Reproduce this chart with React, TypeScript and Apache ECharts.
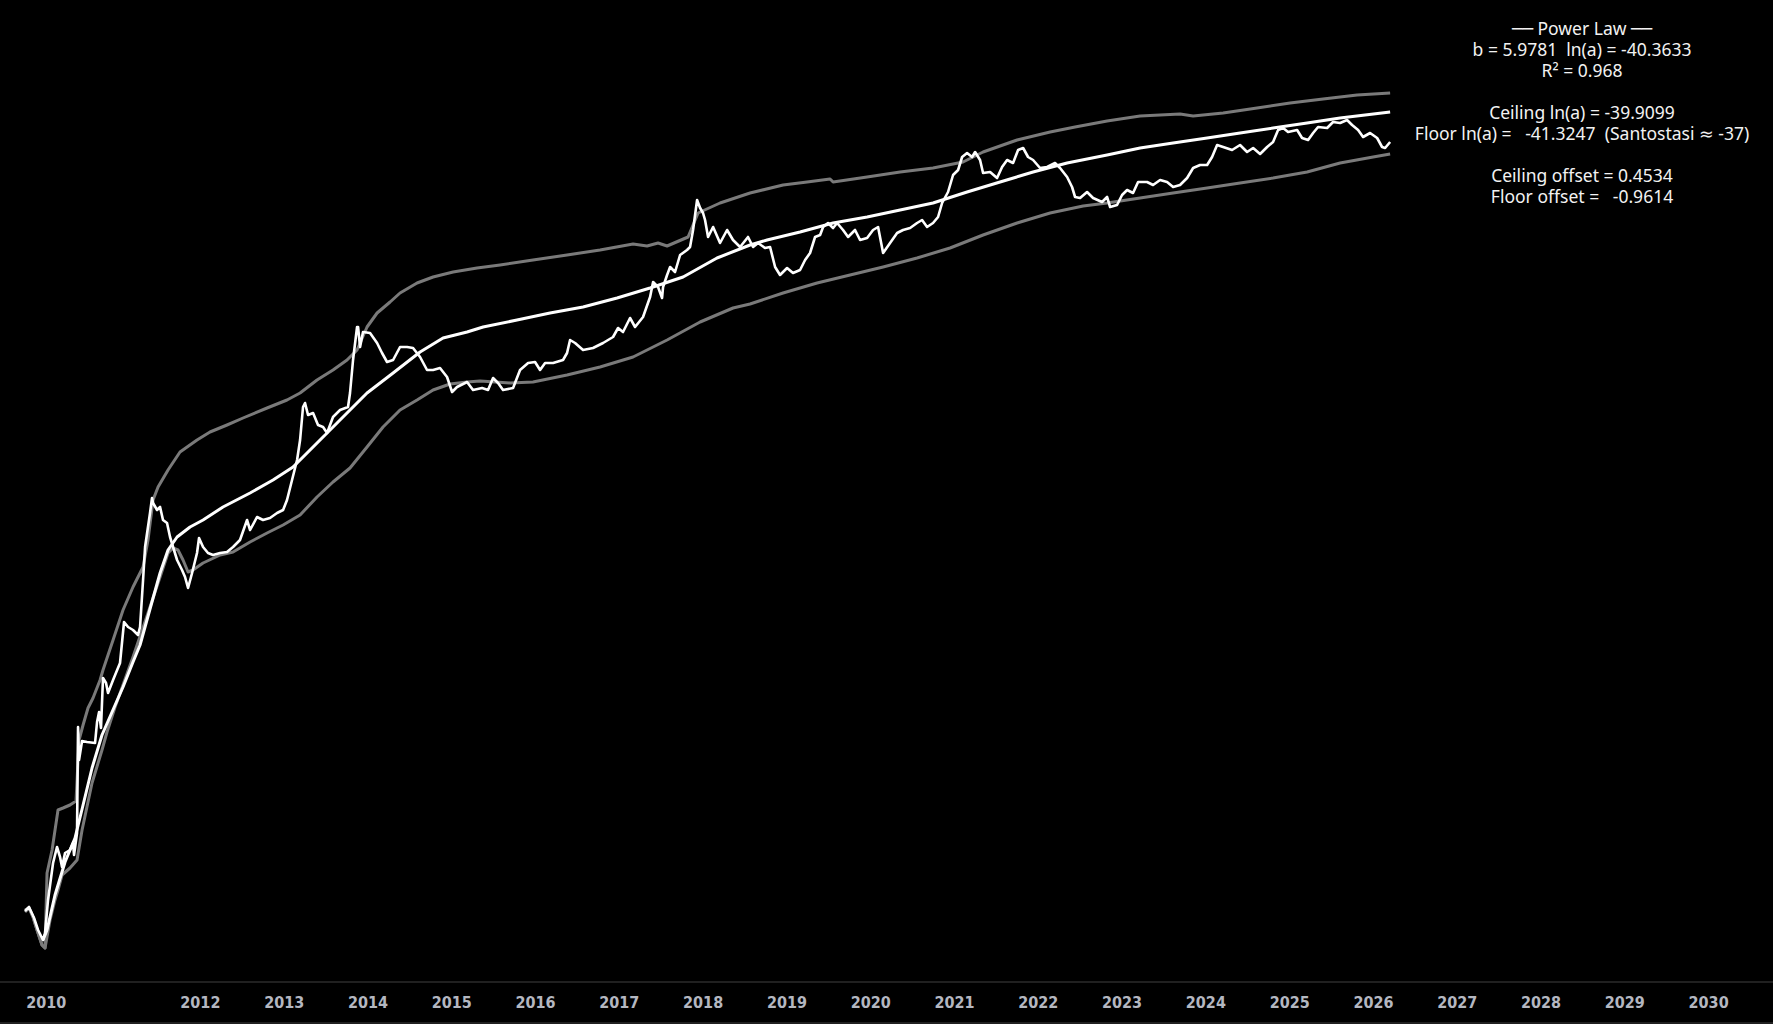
import React, { useEffect, useRef } from "react";
import * as echarts from "echarts";

// x = decimal year, y = log10(price)
const priceSeries: [number, number][] = [
  [2009.907, -2.81], [2009.955, -2.77], [2010.015, -2.88], [2010.063, -3.0], [2010.122, -3.1],
  [2010.146, -3.03], [2010.182, -2.7], [2010.242, -2.33], [2010.289, -2.17], [2010.325, -2.27],
  [2010.349, -2.37], [2010.385, -2.23], [2010.444, -2.2], [2010.48, -2.13], [2010.492, -2.25],
  [2010.528, -2.03], [2010.54, -0.97], [2010.552, -1.3], [2010.588, -1.11], [2010.647, -1.12],
  [2010.743, -1.13], [2010.767, -0.92], [2010.791, -0.82], [2010.814, -0.98], [2010.838, -0.48],
  [2010.874, -0.53], [2010.898, -0.63], [2010.958, -0.5], [2011.041, -0.33], [2011.089, 0.08],
  [2011.137, 0.03], [2011.196, 0.0], [2011.256, -0.05], [2011.28, 0.03], [2011.316, 0.5],
  [2011.34, 0.83], [2011.399, 1.17], [2011.423, 1.32], [2011.435, 1.27], [2011.483, 1.2],
  [2011.519, 1.23], [2011.554, 1.1], [2011.602, 1.07], [2011.638, 0.93], [2011.674, 0.83],
  [2011.722, 0.7], [2011.781, 0.6], [2011.817, 0.53], [2011.853, 0.42], [2011.901, 0.57],
  [2011.96, 0.77], [2011.984, 0.92], [2012.032, 0.83], [2012.091, 0.77], [2012.151, 0.75],
  [2012.235, 0.77], [2012.318, 0.78], [2012.39, 0.83], [2012.473, 0.9], [2012.557, 1.1],
  [2012.593, 1.0], [2012.676, 1.13], [2012.748, 1.1], [2012.831, 1.12], [2012.915, 1.17],
  [2012.987, 1.2], [2013.034, 1.3], [2013.094, 1.5], [2013.154, 1.7], [2013.19, 1.9],
  [2013.225, 2.23], [2013.249, 2.27], [2013.285, 2.15], [2013.345, 2.17], [2013.404, 2.05],
  [2013.464, 2.03], [2013.512, 1.97], [2013.583, 2.13], [2013.667, 2.2], [2013.762, 2.23],
  [2013.786, 2.37], [2013.822, 2.7], [2013.87, 3.03], [2013.882, 3.03], [2013.906, 2.83],
  [2013.941, 2.98], [2014.025, 2.97], [2014.109, 2.87], [2014.168, 2.77], [2014.228, 2.68],
  [2014.3, 2.7], [2014.383, 2.83], [2014.467, 2.83], [2014.538, 2.82], [2014.622, 2.73],
  [2014.705, 2.6], [2014.777, 2.6], [2014.86, 2.62], [2014.944, 2.53], [2015.004, 2.38],
  [2015.063, 2.43], [2015.183, 2.48], [2015.254, 2.4], [2015.362, 2.42], [2015.433, 2.4],
  [2015.493, 2.52], [2015.553, 2.47], [2015.612, 2.4], [2015.732, 2.42], [2015.815, 2.6],
  [2015.911, 2.67], [2015.994, 2.68], [2016.054, 2.6], [2016.114, 2.67], [2016.209, 2.67],
  [2016.328, 2.7], [2016.376, 2.77], [2016.412, 2.9], [2016.472, 2.87], [2016.567, 2.8],
  [2016.686, 2.82], [2016.806, 2.87], [2016.925, 2.93], [2016.985, 3.02], [2017.044, 2.98],
  [2017.128, 3.12], [2017.188, 3.03], [2017.283, 3.13], [2017.367, 3.33], [2017.403, 3.48],
  [2017.462, 3.43], [2017.51, 3.32], [2017.522, 3.43], [2017.57, 3.55], [2017.606, 3.63],
  [2017.665, 3.58], [2017.725, 3.75], [2017.808, 3.8], [2017.844, 3.83], [2017.88, 4.0],
  [2017.928, 4.3], [2017.964, 4.22], [2017.999, 4.17], [2018.023, 4.1], [2018.059, 3.93],
  [2018.119, 4.03], [2018.202, 3.87], [2018.286, 4.0], [2018.357, 3.9], [2018.441, 3.83],
  [2018.536, 3.93], [2018.596, 3.83], [2018.656, 3.87], [2018.739, 3.82], [2018.799, 3.83],
  [2018.859, 3.63], [2018.918, 3.55], [2019.002, 3.62], [2019.073, 3.57], [2019.157, 3.6],
  [2019.217, 3.7], [2019.276, 3.77], [2019.336, 3.93], [2019.396, 3.95], [2019.432, 4.03],
  [2019.491, 4.07], [2019.551, 4.02], [2019.599, 4.07], [2019.67, 4.0], [2019.73, 3.93],
  [2019.813, 4.0], [2019.873, 3.9], [2019.957, 3.92], [2020.028, 4.0], [2020.088, 4.03],
  [2020.148, 3.77], [2020.231, 3.87], [2020.315, 3.97], [2020.386, 4.0], [2020.47, 4.02],
  [2020.553, 4.07], [2020.613, 4.1], [2020.673, 4.03], [2020.744, 4.07], [2020.804, 4.13],
  [2020.852, 4.27], [2020.923, 4.38], [2020.983, 4.55], [2021.043, 4.6], [2021.091, 4.73],
  [2021.15, 4.77], [2021.21, 4.73], [2021.246, 4.78], [2021.305, 4.7], [2021.341, 4.57],
  [2021.425, 4.58], [2021.508, 4.52], [2021.568, 4.63], [2021.628, 4.7], [2021.699, 4.67],
  [2021.759, 4.8], [2021.819, 4.82], [2021.878, 4.73], [2021.938, 4.7], [2022.021, 4.62],
  [2022.105, 4.63], [2022.2, 4.67], [2022.26, 4.62], [2022.344, 4.53], [2022.403, 4.43],
  [2022.439, 4.33], [2022.499, 4.32], [2022.582, 4.38], [2022.654, 4.32], [2022.761, 4.28],
  [2022.821, 4.33], [2022.857, 4.23], [2022.94, 4.25], [2023.0, 4.35], [2023.06, 4.4],
  [2023.131, 4.37], [2023.191, 4.48], [2023.298, 4.48], [2023.37, 4.45], [2023.454, 4.5],
  [2023.537, 4.48], [2023.609, 4.43], [2023.692, 4.45], [2023.776, 4.52], [2023.848, 4.62],
  [2023.931, 4.65], [2024.015, 4.65], [2024.074, 4.73], [2024.134, 4.85], [2024.206, 4.83],
  [2024.313, 4.8], [2024.408, 4.85], [2024.492, 4.78], [2024.564, 4.82], [2024.647, 4.76],
  [2024.731, 4.83], [2024.802, 4.88], [2024.862, 5.0], [2024.922, 5.02], [2024.981, 4.98],
  [2025.089, 5.0], [2025.148, 4.92], [2025.22, 4.9], [2025.28, 4.97], [2025.339, 5.03],
  [2025.447, 5.02], [2025.518, 5.08], [2025.602, 5.07], [2025.685, 5.1], [2025.745, 5.05],
  [2025.817, 5.0], [2025.876, 4.93], [2025.96, 4.97], [2026.044, 4.92], [2026.103, 4.83],
  [2026.139, 4.82], [2026.199, 4.88],
];

const powerLawFit: [number, number][] = [
  [2010.122, -3.1], [2010.17, -3.0], [2010.265, -2.65], [2010.385, -2.32], [2010.504, -2.08],
  [2010.6, -1.75], [2010.707, -1.38], [2010.826, -1.05], [2010.946, -0.82], [2011.077, -0.57],
  [2011.196, -0.32], [2011.28, -0.15], [2011.399, 0.21], [2011.519, 0.57], [2011.614, 0.8],
  [2011.722, 0.93], [2011.877, 1.03], [2012.032, 1.1], [2012.27, 1.23], [2012.593, 1.37],
  [2012.867, 1.5], [2013.106, 1.63], [2013.273, 1.77], [2013.512, 1.97], [2013.75, 2.17],
  [2013.989, 2.37], [2014.3, 2.57], [2014.622, 2.78], [2014.896, 2.92], [2015.183, 2.98],
  [2015.374, 3.03], [2015.779, 3.1], [2016.173, 3.17], [2016.567, 3.23], [2016.973, 3.32],
  [2017.367, 3.42], [2017.761, 3.53], [2018.166, 3.72], [2018.56, 3.85], [2018.763, 3.9],
  [2019.157, 3.98], [2019.551, 4.07], [2019.957, 4.13], [2020.351, 4.2], [2020.744, 4.27],
  [2021.15, 4.38], [2021.544, 4.48], [2021.938, 4.58], [2022.344, 4.67], [2022.821, 4.75],
  [2023.215, 4.82], [2023.609, 4.87], [2024.015, 4.92], [2024.408, 4.97], [2024.802, 5.02],
  [2025.208, 5.07], [2025.602, 5.12], [2026.199, 5.18],
];

const ceilingBand: [number, number][] = [
  [2009.907, -2.8], [2009.955, -2.78], [2010.003, -2.87], [2010.051, -3.0], [2010.11, -3.15],
  [2010.146, -3.18], [2010.17, -2.43], [2010.23, -2.2], [2010.301, -1.8], [2010.361, -1.78],
  [2010.444, -1.75], [2010.516, -1.71], [2010.552, -1.1], [2010.6, -0.95], [2010.659, -0.78],
  [2010.719, -0.68], [2010.803, -0.5], [2010.838, -0.4], [2010.958, -0.1], [2011.077, 0.2],
  [2011.196, 0.43], [2011.316, 0.63], [2011.375, 0.9], [2011.435, 1.3], [2011.495, 1.43],
  [2011.614, 1.6], [2011.757, 1.78], [2011.96, 1.9], [2012.115, 1.98], [2012.318, 2.05],
  [2012.509, 2.12], [2012.796, 2.22], [2013.034, 2.3], [2013.19, 2.37], [2013.392, 2.5],
  [2013.583, 2.6], [2013.75, 2.7], [2013.87, 2.8], [2013.989, 3.03], [2014.109, 3.17],
  [2014.264, 3.28], [2014.383, 3.37], [2014.586, 3.47], [2014.777, 3.53], [2015.016, 3.58],
  [2015.302, 3.62], [2015.577, 3.65], [2015.97, 3.7], [2016.376, 3.75], [2016.77, 3.8],
  [2017.164, 3.86], [2017.331, 3.84], [2017.462, 3.87], [2017.57, 3.84], [2017.82, 3.93],
  [2017.94, 4.17], [2018.202, 4.27], [2018.56, 4.37], [2018.954, 4.45], [2019.241, 4.48],
  [2019.515, 4.51], [2019.551, 4.48], [2019.957, 4.53], [2020.351, 4.58], [2020.744, 4.62],
  [2021.102, 4.68], [2021.341, 4.78], [2021.747, 4.9], [2022.141, 4.98], [2022.439, 5.03],
  [2022.821, 5.09], [2023.215, 5.14], [2023.692, 5.16], [2023.848, 5.14], [2024.206, 5.17],
  [2024.611, 5.22], [2025.005, 5.27], [2025.399, 5.31], [2025.805, 5.35], [2026.199, 5.37],
];

const floorBand: [number, number][] = [
  [2009.907, -2.82], [2009.955, -2.78], [2010.003, -2.87], [2010.051, -3.0], [2010.11, -3.15],
  [2010.146, -3.18], [2010.206, -2.9], [2010.265, -2.7], [2010.301, -2.6], [2010.349, -2.45],
  [2010.444, -2.38], [2010.528, -2.3], [2010.588, -2.0], [2010.707, -1.53], [2010.826, -1.2],
  [2010.886, -1.02], [2010.982, -0.77], [2011.196, -0.27], [2011.375, 0.17], [2011.519, 0.53],
  [2011.614, 0.77], [2011.674, 0.82], [2011.733, 0.8], [2011.793, 0.7], [2011.853, 0.58],
  [2011.912, 0.6], [2012.032, 0.67], [2012.235, 0.75], [2012.39, 0.78], [2012.593, 0.88],
  [2012.796, 0.97], [2012.987, 1.05], [2013.19, 1.15], [2013.392, 1.33], [2013.583, 1.48],
  [2013.786, 1.62], [2013.989, 1.83], [2014.18, 2.03], [2014.383, 2.2], [2014.586, 2.3],
  [2014.777, 2.4], [2014.98, 2.46], [2015.183, 2.48], [2015.338, 2.49], [2015.696, 2.47],
  [2015.97, 2.48], [2016.376, 2.55], [2016.77, 2.63], [2017.164, 2.73], [2017.57, 2.9],
  [2017.964, 3.08], [2018.357, 3.22], [2018.56, 3.26], [2018.954, 3.37], [2019.36, 3.47],
  [2019.754, 3.55], [2020.148, 3.63], [2020.553, 3.72], [2020.947, 3.82], [2021.341, 3.95],
  [2021.747, 4.07], [2022.141, 4.17], [2022.535, 4.24], [2022.821, 4.27], [2023.215, 4.32],
  [2023.609, 4.37], [2024.015, 4.42], [2024.408, 4.47], [2024.802, 4.52], [2025.208, 4.58],
  [2025.602, 4.67], [2025.996, 4.73], [2026.199, 4.76],
];

const yearTicksHidden = [2009, 2011, 2032];
const yearLabelShifted = 2010;

const infoLines = [
  "── Power Law ──",
  "b = 5.9781  ln(a) = -40.3633",
  "R² = 0.968",
  "",
  "Ceiling ln(a) = -39.9099",
  "Floor ln(a) =   -41.3247  (Santostasi ≈ -37)",
  "",
  "Ceiling offset = 0.4534",
  "Floor offset =   -0.9614",
];

const W = 1773;
const H = 1024;

export default function App() {
  const ref = useRef<HTMLDivElement>(null);

  useEffect(() => {
    document.body.style.margin = "0";
    document.body.style.background = "#000";
    const chart = echarts.init(ref.current!, undefined, { renderer: "svg", width: W, height: H });
    const labelFont = '"DejaVu Sans Condensed", "DejaVu Sans", sans-serif';
    const labelColor = "#b4b7c0";
    const band = (name: string, data: [number, number][]) => ({
      name,
      type: "line",
      data,
      showSymbol: false,
      symbol: "none",
      lineStyle: { color: "#7a7a7a", width: 3, join: "round" },
      emphasis: { disabled: true },
      z: 2,
    });
    chart.setOption({
      animation: false,
      backgroundColor: "#000000",
      grid: {
        left: -51.0,
        right: -103.2,
        top: 0,
        bottom: 42,
        containLabel: false,
        outerBoundsMode: "none",
      },
      xAxis: {
        type: "value",
        min: 2009,
        max: 2032,
        interval: 1,
        axisLine: { show: true, onZero: false, lineStyle: { color: "#2b2b2b", width: 1.5 } },
        axisTick: { show: false },
        splitLine: { show: false },
        axisLabel: {
          interval: 0,
          hideOverlap: false,
          showMinLabel: true,
          showMaxLabel: true,
          color: labelColor,
          fontFamily: labelFont,
          fontWeight: "bold",
          fontSize: 16,
          margin: 12,
          formatter: (v: number) => {
            const y = Math.round(v);
            if (yearTicksHidden.includes(y)) return "";
            if (y === yearLabelShifted) return `{s|${y}}`;
            return String(y);
          },
          rich: {
            s: {
              color: labelColor,
              fontFamily: labelFont,
              fontWeight: "bold",
              fontSize: 16,
              padding: [0, 0, 0, 27],
            },
          },
        },
      },
      yAxis: {
        type: "value",
        min: -3.52,
        max: 6.3,
        show: false,
        splitLine: { show: false },
      },
      series: [
        band("Ceiling", ceilingBand),
        band("Floor", floorBand),
        {
          name: "Power Law",
          type: "line",
          data: powerLawFit,
          showSymbol: false,
          symbol: "none",
          lineStyle: { color: "#ffffff", width: 3, join: "round" },
          emphasis: { disabled: true },
          z: 3,
        },
        {
          name: "Price",
          type: "line",
          data: priceSeries,
          showSymbol: false,
          symbol: "none",
          lineStyle: { color: "#ffffff", width: 2.6, join: "round" },
          emphasis: { disabled: true },
          z: 4,
        },
      ],
      graphic: [
        {
          type: "text",
          x: 1582,
          y: 17,
          style: {
            text: infoLines.join("\n"),
            fill: "#f2f2f2",
            fontFamily: '"Noto Sans", "DejaVu Sans", sans-serif',
            fontSize: 17.5,
            lineHeight: 21,
            align: "center",
            verticalAlign: "top",
          },
          z: 10,
        },
        {
          type: "line",
          shape: { x1: 0, y1: 1023, x2: W, y2: 1023 },
          style: { stroke: "#2b2b2b", lineWidth: 1.5 },
        },
      ],
    });
    return () => chart.dispose();
  }, []);

  return (
    <div
      ref={ref}
      style={{ width: W, height: H, background: "#000", position: "absolute", left: 0, top: 0 }}
    />
  );
}
